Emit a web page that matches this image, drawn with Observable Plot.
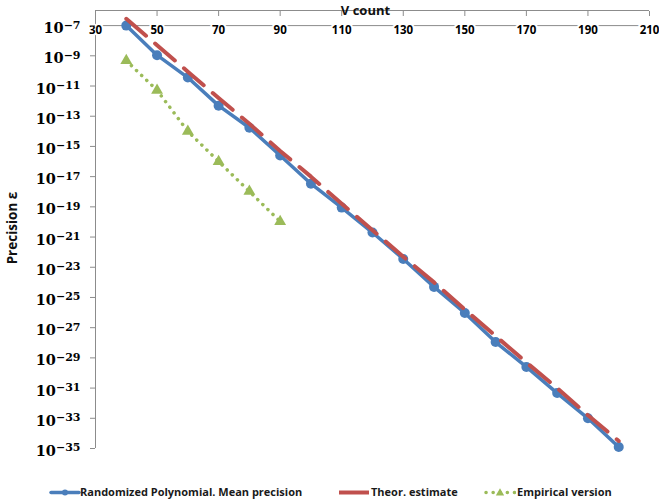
<!DOCTYPE html>
<html><head><meta charset="utf-8">
<script src="https://cdn.jsdelivr.net/npm/d3@7"></script>
<script src="https://cdn.jsdelivr.net/npm/@observablehq/plot@0.6"></script>
<style>
body{margin:0;background:#fff;}
#wrap{position:relative;width:659px;height:502px;overflow:hidden;font-family:"Open Sans",Arial,sans-serif;}
.leg{position:absolute;top:484px;font-weight:bold;font-size:11px;color:#1a1a1a;white-space:nowrap;line-height:15px;}
.sw{position:absolute;top:485px;}
.ylab{position:absolute;left:12px;top:228px;transform:translate(-50%,-50%) rotate(-90deg);font-weight:bold;font-size:13.5px;color:#111;white-space:nowrap;line-height:16px;}
</style></head><body><div id="wrap"></div>
<script>
// ---- data ----
const vCount = [40,50,60,70,80,90,100,110,120,130,140,150,160,170,180,190,200];
const meanPrecisionExp = [-7.0,-8.96,-10.44,-12.3,-13.76,-15.6,-17.47,-19.05,-20.7,-22.45,-24.3,-26.03,-27.95,-29.6,-31.33,-33.0,-34.9];
const theorEstimateExp = [-6.55,-8.3,-10.05,-11.8,-13.5,-15.3,-17.0,-18.8,-20.55,-22.3,-24.0,-25.8,-27.55,-29.3,-31.0,-32.8,-34.5];
const empiricalVCount = [40,50,60,70,80,90];
const empiricalExp = [-9.32,-11.28,-14.0,-16.0,-17.98,-19.97];
const xTicks = [30,50,70,90,110,130,150,170,190,210];
const yTickExps = [-35,-33,-31,-29,-27,-25,-23,-21,-19,-17,-15,-13,-11,-9,-7];
const xDomain = [30,210];
const yDomainExp = [-35,-6];
const xAxisCrossExp = -7;   // horizontal axis line crosses the y axis here
const seriesNames = ["Randomized Polynomial. Mean precision","Theor. estimate","Empirical version"];
const seriesColors = ["#4A7EBB","#C0504D","#9BBB59"];
const xLabel = "V count";
const yLabel = "Precision \u03b5";

const toVal = e => Math.pow(10, e);
const blue = vCount.map((v,i)=>({v, p: toVal(meanPrecisionExp[i])}));
const red = vCount.map((v,i)=>({v, p: toVal(theorEstimateExp[i])}));
const green = empiricalVCount.map((v,i)=>({v, p: toVal(empiricalExp[i])}));
const axisGray = "#8c8c8c";
const font = "'Open Sans', Arial, sans-serif";

const chart = Plot.plot({
  width: 659, height: 470,
  marginTop: 10, marginLeft: 95, marginRight: 10, marginBottom: 22,
  style: {fontFamily: font, background: "#fff", overflow: "visible"},
  x: {domain: xDomain},
  y: {type: "log", domain: yDomainExp.map(toVal)},
  marks: [
    Plot.ruleX([xDomain[0]], {stroke: axisGray, strokeWidth: 1}),
    Plot.ruleY([toVal(yDomainExp[1])], {stroke: axisGray, strokeWidth: 1}),
    Plot.ruleY([toVal(xAxisCrossExp)], {stroke: axisGray, strokeWidth: 1}),
    Plot.axisX({anchor: "top", ticks: xTicks, tickSize: -5, text: null, stroke: axisGray, label: null}),
    Plot.axisX({anchor: "top", ticks: xTicks, tickSize: 0, tickPadding: 3, dy: 26, fontWeight: "bold", fontSize: 11.5,
      color: "#000", textStroke: "#fff", textStrokeWidth: 4, label: null}),
    Plot.axisY({anchor: "left", ticks: yTickExps.map(toVal), tickSize: 5, tickPadding: 10, stroke: axisGray,
      tickFormat: d => "10^" + Math.round(Math.log10(d)), label: null, fill: "#000"}),
    Plot.text([xLabel], {frameAnchor: "top", dx: -7, dy: 0, lineAnchor: "middle", fontWeight: "bold", fontSize: 13, fill: "#111"}),
    Plot.line(blue, {x: "v", y: "p", stroke: seriesColors[0], strokeWidth: 3.5}),
    Plot.dot(blue, {x: "v", y: "p", r: 5, fill: seriesColors[0]}),
    Plot.line(red, {x: "v", y: "p", stroke: seriesColors[1], strokeWidth: 4, strokeDasharray: "26,12"}),
    Plot.line(green, {x: "v", y: "p", stroke: seriesColors[2], strokeWidth: 3.5, strokeDasharray: "0.1,7", strokeLinecap: "round"}),
    Plot.dot(green, {x: "v", y: "p", symbol: "triangle", r: 4.4, fill: seriesColors[2]})
  ]
});

// superscript exponents on the y tick labels
d3.select(chart).selectAll('g[aria-label="y-axis tick label"] text').each(function(){
  const t = d3.select(this);
  const s = t.text();
  const exp = s.split("^")[1].replace("-", "\u2212");
  t.text("");
  t.attr("font-family", "'DejaVu Serif', serif").attr("font-weight", "bold").attr("font-size", 14.5).attr("dy", "0.2em");
  t.append("tspan").text("10");
  t.append("tspan").attr("font-size", 11).attr("dy", "-0.42em").text(exp);
});

const wrap = document.getElementById("wrap");
wrap.appendChild(chart);

// y axis title
d3.select(wrap).append("div").attr("class", "ylab").text(yLabel);

// legend (HTML below the plot)
const legendItems = [
  {name: seriesNames[0], color: seriesColors[0], left: 49, textLeft: 80, kind: "circle"},
  {name: seriesNames[1], color: seriesColors[1], left: 338, textLeft: 371, kind: "dash"},
  {name: seriesNames[2], color: seriesColors[2], left: 484, textLeft: 517, kind: "tri"}
];
legendItems.forEach(it => {
  const sw = d3.select(wrap).append("svg").attr("class","sw").attr("width", 32).attr("height", 14)
    .style("left", it.left + "px");
  const line = sw.append("line").attr("x1", 1).attr("x2", 31).attr("y1", 7.5).attr("y2", 7.5)
    .attr("stroke", it.color);
  if (it.kind === "circle") {
    line.attr("stroke-width", 3.5).attr("stroke-linecap", "round").attr("x1", 2).attr("x2", 30);
    sw.append("circle").attr("cx", 16).attr("cy", 7.5).attr("r", 3).attr("fill", it.color);
  } else if (it.kind === "dash") {
    line.attr("stroke-width", 4);
  } else {
    line.attr("stroke-width", 3.5).attr("stroke-dasharray", "0.1,7").attr("stroke-linecap", "round").attr("x1", 2);
    sw.append("path").attr("d", d3.symbol(d3.symbolTriangle, 30)()).attr("transform", "translate(16,8)").attr("fill", it.color);
  }
  d3.select(wrap).append("div").attr("class", "leg").style("left", it.textLeft + "px").text(it.name);
});
</script>
</body></html>
